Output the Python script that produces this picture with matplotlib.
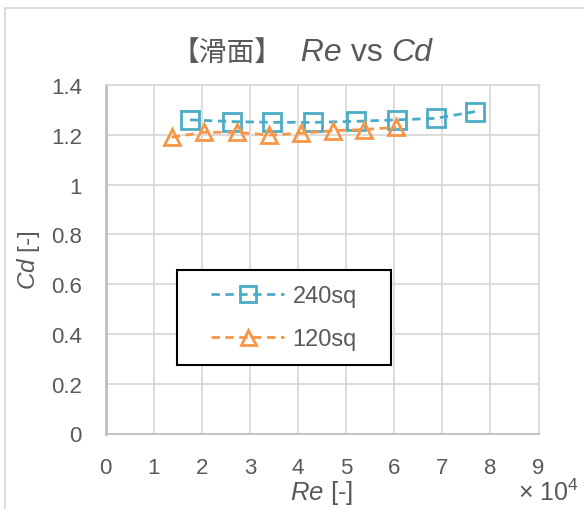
import matplotlib
matplotlib.use('Agg')
import matplotlib.pyplot as plt
from matplotlib.patches import Rectangle
from matplotlib.transforms import IdentityTransform

plt.rcParams['font.family'] = ['Liberation Sans', 'Noto Sans CJK JP']
plt.rcParams['mathtext.fontset'] = 'custom'
plt.rcParams['mathtext.rm'] = 'Liberation Sans'
plt.rcParams['mathtext.it'] = 'Liberation Sans:italic'

# ---- data ----
re_240 = [17570, 26300, 34700, 43200, 52000, 60500, 68600, 76800]
cd_240 = [1.260, 1.253, 1.250, 1.250, 1.254, 1.260, 1.266, 1.293]
re_120 = [13800, 20500, 27300, 34000, 40600, 47300, 53800, 60400]
cd_120 = [1.190, 1.210, 1.210, 1.199, 1.206, 1.217, 1.221, 1.230]
labels = ['240sq', '120sq']
x_ticks = [0, 1, 2, 3, 4, 5, 6, 7, 8, 9]
y_ticks = [0, 0.2, 0.4, 0.6, 0.8, 1.0, 1.2, 1.4]
y_tick_labels = ['0', '0.2', '0.4', '0.6', '0.8', '1', '1.2', '1.4']

W, H = 584, 510
TXT = '#595959'
BLUE = '#4bacc6'
ORANGE = '#f79646'
GRID = '#d9d9d9'

fig = plt.figure(figsize=(W / 100, H / 100), dpi=100)
# outer chart border
fig.patches.append(Rectangle((5 / W, -0.1), 1.2, 1 - 9 / H + 0.1, transform=fig.transFigure,
                             fill=False, edgecolor=GRID, lw=1.3))

left, right, top, bottom = 105.5, 538.5, 86, 434.5
ax = fig.add_axes([left / W, 1 - bottom / H, (right - left) / W, (bottom - top) / H])

scale = 1e4
ax.plot([r / scale for r in re_240], cd_240, linestyle=(0, (3, 2)), lw=2, color=BLUE,
        marker='s', ms=12.5, mfc='none', mec=BLUE, mew=2, label=labels[0], zorder=3)
ax.plot([r / scale for r in re_120], cd_120, linestyle=(0, (3, 2)), lw=2, color=ORANGE,
        marker='^', ms=12, mfc='none', mec=ORANGE, mew=2, label=labels[1], zorder=3)

ax.set_xlim(0, 9)
ax.set_ylim(0, 1.4)
ax.set_xticks(x_ticks)
ax.set_xticklabels([str(t) for t in x_ticks])
ax.set_yticks(y_ticks)
ax.set_yticklabels(y_tick_labels)
ax.tick_params(length=0, labelsize=16, labelcolor=TXT)
ax.tick_params(axis='x', pad=17)
ax.tick_params(axis='y', pad=17)
ax.grid(True, color=GRID, lw=1.3)
ax.set_axisbelow(True)
for s in ax.spines.values():
    s.set_color(GRID)
    s.set_linewidth(1.3)
ax.spines['bottom'].set_color('#bfbfbf')
ax.spines['left'].set_color('#bfbfbf')
ax.spines['left'].set_linewidth(2)

# axis labels
fig.text(322 / W, 1 - 493 / H, r'$\mathit{Re}$ [-]', ha='center', va='center', fontsize=18.5, color=TXT)
fig.text(28 / W, 1 - 260 / H, r'$\mathit{Cd}$ [-]', ha='center', va='center', rotation=90,
         fontsize=17.5, color=TXT)
fig.text(518 / W, 1 - 493 / H, '× 10$^{4}$', ha='left', va='center', fontsize=18, color=TXT)

# legend box
lx0, lx1, ly0, ly1 = 177, 391, 271, 366
ax.add_patch(Rectangle(((lx0 - left) / (right - left), (bottom - ly1) / (bottom - top)),
                       (lx1 - lx0) / (right - left), (ly1 - ly0) / (bottom - top),
                       transform=ax.transAxes, facecolor='white', edgecolor='black', lw=1.5, zorder=4))
leg = ax.legend(loc='center', bbox_to_anchor=(((lx0 + lx1) / 2 - left) / (right - left),
                                              (bottom - (ly0 + ly1) / 2) / (bottom - top)),
                frameon=False, fontsize=17, handlelength=3.1, handletextpad=0.35,
                labelspacing=0.9, markerscale=0.9)
leg.set_zorder(5)
for t in leg.get_texts():
    t.set_color(TXT)

# title (mixed fonts)
fig.canvas.draw()
renderer = fig.canvas.get_renderer()
parts = [('【滑面】', 'normal', ['Noto Sans CJK JP'], 20),
         ('  Re', 'italic', ['Liberation Sans'], 23),
         (' vs ', 'normal', ['Liberation Sans'], 23),
         ('Cd', 'italic', ['Liberation Sans'], 23)]
x = 172
ybase = H - 61
for s, style, fam, fs in parts:
    t = fig.text(x, ybase, s, transform=IdentityTransform(), ha='left', va='baseline',
                 fontsize=fs, color=TXT, style=style, family=fam)
    ext = t.get_window_extent(renderer)
    x = ext.x1

fig.savefig('out.png', dpi=100)
